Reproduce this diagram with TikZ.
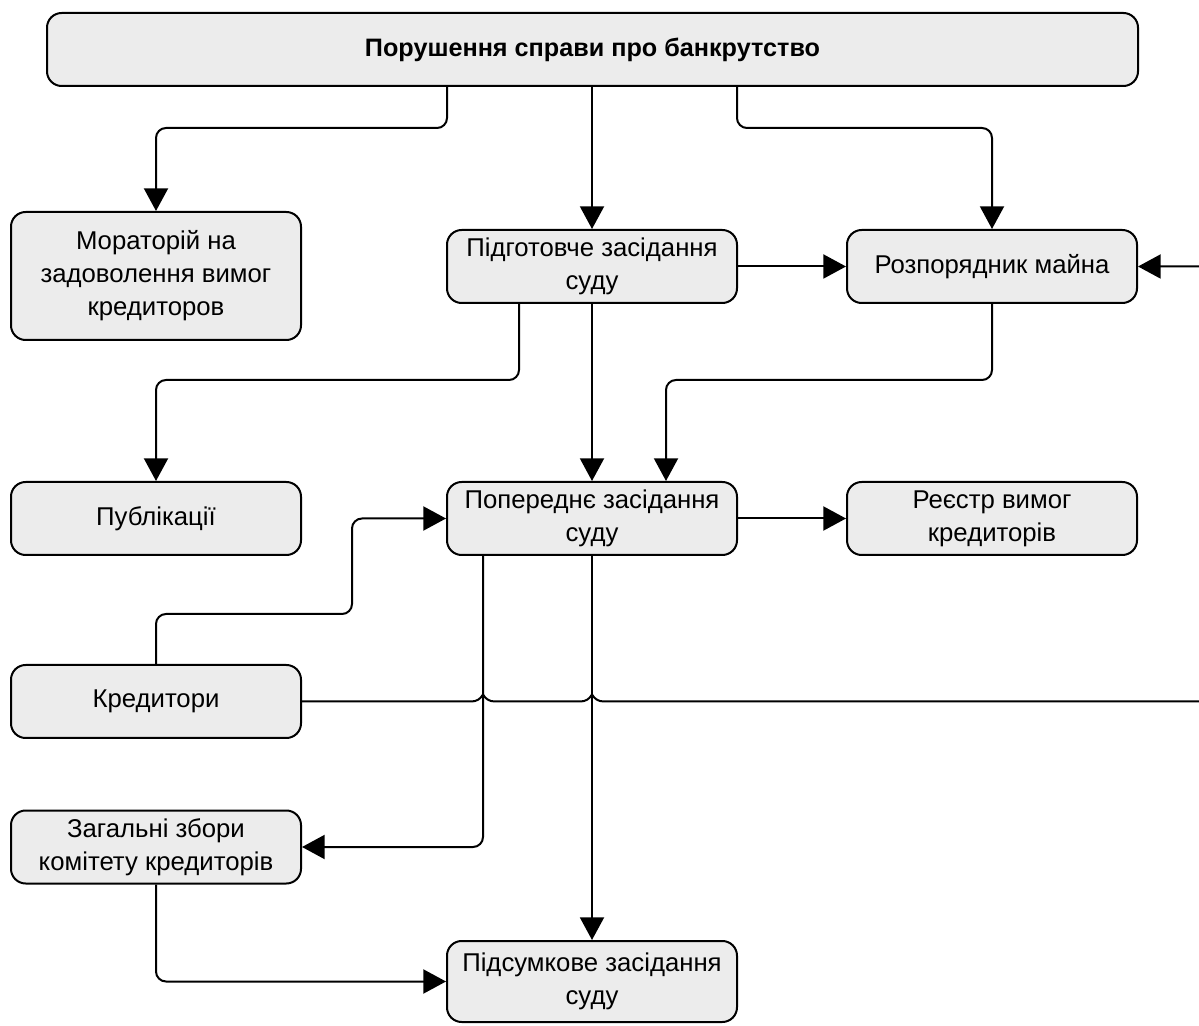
\documentclass[tikz,border=0pt]{standalone}
\usepackage{fontspec}
\setmainfont{Liberation Sans}
\usetikzlibrary{calc,arrows.meta}
\definecolor{boxgray}{RGB}{236,236,236}

\begin{document}
\begin{tikzpicture}[x=0.75pt,y=0.75pt,
		box/.style={draw,line width=1.5pt,fill=boxgray,rounded corners=11pt,minimum width=217.5pt,minimum height=54.75pt,align=center,inner sep=2pt,font=\fontsize{19.3}{24.75}\selectfont},
		conn/.style={line width=1.5pt,rounded corners=7.5pt,-{Triangle[length=17pt,width=18pt]}}]
		\useasboundingbox (0,0) rectangle (1199,1025);
		
		%boxes
		\node[box,minimum width=818.25pt,font=\bfseries\fontsize{18.9}{24.75}\selectfont] (title) at (592.5,975.5) {Порушення справи про банкрутство};
		\node[box,minimum height=96pt] (morat) at (156,749) {Мораторій на\\задоволення вимог\\кредиторов};
		\node[box] (prep) at (592,758.5) {Підготовче засідання\\суду};
		\node[box] (admin) at (992,758.5) {Розпорядник майна};
		\node[box] (publ) at (156,506.5) {Публікації};
		\node[box] (prelim) at (592,506.5) {Попереднє засідання\\суду};
		\node[box] (reg) at (992,506.5) {Реєстр вимог\\кредиторів};
		\node[box] (cred) at (156,323.5) {Кредитори};
		\node[box] (meeting) at (156,178) {Загальні збори\\комітету кредиторів};
		\node[box,minimum height=60.75pt] (final) at (592,43.5) {Підсумкове засідання\\суду};
		
		%knees
		\coordinate (c1) at (447,897);
		\coordinate (c2) at (737,897);
		\coordinate (c3) at (519,645);
		\coordinate (c4) at (666,645);
		\coordinate (c5) at (352,411);
		\coordinate (c6) at (483,178);
		\coordinate (c7) at (1215,0);
		
		%arrows:
		\draw[conn] (title.south -| c1) -- (c1) -| (morat.north);
		\draw[conn] (title.south -| prep.north) -- (prep.north);
		\draw[conn] (title.south -| c2) -- (c2) -| (admin.north);
		\draw[conn] (prep) -- (admin);
		\draw[conn] (prep.south -| c3) -- (c3) -| (publ.north);
		\draw[conn] (prep) -- (prelim);
		\draw[conn] (admin.south) |- (c4) -- (prelim.north -| c4);
		\draw[conn] (prelim) -- (reg);
		\draw[conn] (cred.north) |- (c5) |- (prelim.west);
		\draw[conn] (prelim.south -| c6) |- (meeting.east);
		\draw[conn] (prelim) -- (final);
		\draw[conn] (meeting.south) |- (final.west);
		
		%line with jumps
		\draw[conn,sharp corners] (cred.east) -- ($(cred.east -| c6)+(-12,0)$) to[out=0,in=-120] ++(12,7) to[out=-60,in=180] ++(12,-7)
			-- ($(cred.east -| prelim.south)+(-12,0)$) to[out=0,in=-120] ++(12,7) to[out=-60,in=180] ++(12,-7)
			-- (cred.east -| c7) |- (admin.east);
		
\end{tikzpicture}
\end{document}
